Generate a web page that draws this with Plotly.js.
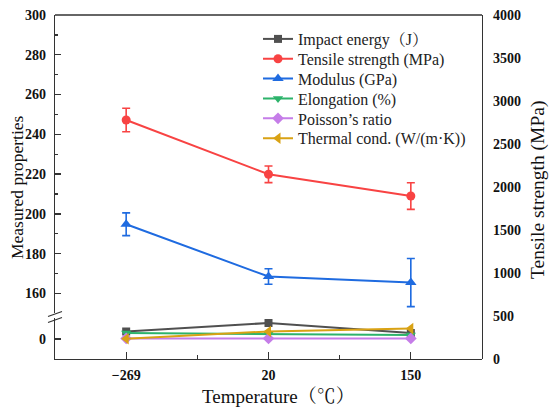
<!DOCTYPE html>
<html><head><meta charset="utf-8">
<script src="https://cdn.plot.ly/plotly-3.0.1.min.js"></script>
<style>html,body{margin:0;padding:0;background:#fff}#chart{width:550px;height:416px}</style>
</head><body><div id="chart"></div>
<script>
// ---- data ----
const temperatures = ["\u2212269", "20", "150"];
const impactEnergy = [3.8, 8.0, 3.0];
const tensileStrength = [2779, 2148, 1895];
const tensileErr = [136, 97, 155];
const modulus = [194.8, 168.5, 165.5];
const modulusErr = [5.7, 3.9, 12.1];
const elongation = [3.0, 2.5, 2.0];
const poissonRatio = [0.3, 0.3, 0.3];
const thermalCond = [0.1, 3.8, 5.2];
const seriesNames = ["Impact energy\uFF08J\uFF09", "Tensile strength (MPa)", "Modulus (GPa)",
  "Elongation (%)", "Poisson\u2019s ratio", "Thermal cond. (W/(m\u00B7K))"];
const leftTicksUpper = [160, 180, 200, 220, 240, 260, 280, 300];
const leftTicksLower = [0];

// ---- geometry helpers ----
const W = 550, H = 416, ML = 55, MR = 68, MT = 15, MB = 57;
const PW = W - ML - MR, PH = H - MT - MB;
const px = x => (x - ML) / PW;
const py = y => 1 - (y - MT) / PH;

const idx = temperatures.map((t, i) => i);
const serif = "Liberation Serif, Times New Roman, Noto Serif CJK SC, Noto Sans CJK SC, serif";
const legendNames = ["legend", "legend2", "legend3", "legend4", "legend5", "legend6"];

function tr(k, y, axis, color, symbol, size, err) {
  const t = {
    x: idx, y: y, name: seriesNames[k], yaxis: axis, legend: legendNames[k],
    type: "scatter", mode: "lines+markers",
    line: {color: color, width: 2},
    marker: {color: color, symbol: symbol, size: size}
  };
  if (err) t.error_y = {type: "data", array: err, visible: true, color: color, thickness: 1.6, width: 4};
  return t;
}

const data = [
  tr(0, impactEnergy, "y2", "#505050", "square", 8),
  tr(1, tensileStrength, "y3", "#f84343", "circle", 9, tensileErr),
  tr(2, modulus, "y", "#1f6be0", "triangle-up", 10, modulusErr),
  tr(3, elongation, "y2", "#2db36b", "triangle-down", 9),
  tr(4, poissonRatio, "y2", "#c57de8", "diamond", 9),
  tr(5, thermalCond, "y2", "#d9a214", "triangle-left", 10)
];

const axisLine = "#333333";
const tickFont = {family: serif, size: 14, color: "#111", weight: "bold"};

const layout = {
  width: W, height: H,
  margin: {l: ML, r: MR, t: MT, b: MB, pad: 0},
  paper_bgcolor: "#ffffff", plot_bgcolor: "rgba(0,0,0,0)",
  showlegend: true,
  xaxis: {
    range: [-0.5, 2.5], tickvals: idx, ticktext: temperatures,
    anchor: "y2", showline: true, linecolor: axisLine, linewidth: 1.3,
    ticks: "inside", ticklen: 7, tickwidth: 1.3, tickcolor: axisLine,
    minor: {tick0: 0.5, dtick: 1, ticks: "inside", ticklen: 4, tickwidth: 1.3, tickcolor: axisLine},
    showgrid: false, zeroline: false, tickfont: tickFont, ticklabelstandoff: 3
  },
  yaxis: {
    domain: [0.135, 1], range: [150.4, 300], tickvals: leftTicksUpper,
    anchor: "x", showline: true, linecolor: axisLine, linewidth: 1.3,
    ticks: "inside", ticklen: 6, tickwidth: 1.3, tickcolor: axisLine,
    minor: {dtick: 10, tick0: 0, ticks: "inside", ticklen: 3, tickwidth: 1.3, tickcolor: axisLine},
    showgrid: false, zeroline: false, tickfont: tickFont, ticklabelstandoff: 5
  },
  yaxis2: {
    domain: [0, 0.12], range: [-10, 10.65], tickvals: leftTicksLower,
    anchor: "x", showline: true, linecolor: axisLine, linewidth: 1.3,
    ticks: "inside", ticklen: 6, tickwidth: 1.3, tickcolor: axisLine,
    showgrid: false, zeroline: false, tickfont: tickFont, ticklabelstandoff: 5
  },
  yaxis3: {
    domain: [0, 1], range: [0, 4000], dtick: 500, tick0: 0,
    anchor: "x", side: "right", showline: true, linecolor: axisLine, linewidth: 1.3,
    ticks: "", showgrid: false, zeroline: false, tickfont: tickFont, ticklabelstandoff: 7
  },
  shapes: [
    {type: "line", xref: "paper", yref: "paper", x0: 0, x1: 1, y0: 1, y1: 1,
      line: {color: axisLine, width: 1.3}},
    {type: "line", xref: "paper", yref: "paper", x0: px(48), x1: px(62), y0: py(316.5), y1: py(311.5),
      line: {color: axisLine, width: 1.3}},
    {type: "line", xref: "paper", yref: "paper", x0: px(48), x1: px(62), y0: py(322.5), y1: py(317.5),
      line: {color: axisLine, width: 1.3}}
  ],
  annotations: [
    {text: "Measured properties", xref: "paper", yref: "paper", x: px(17), y: py(187),
      xanchor: "center", yanchor: "middle", borderpad: 0,
      textangle: -90, showarrow: false, font: {family: serif, size: 17.5, color: "#111"}},
    {text: "Tensile strength (MPa)", xref: "paper", yref: "paper", x: px(538), y: py(190),
      xanchor: "center", yanchor: "middle", borderpad: 0,
      textangle: -90, showarrow: false, font: {family: serif, size: 19.5, color: "#111"}},
    {text: "Temperature\uFF08\u2103\uFF09", xref: "paper", yref: "paper", x: px(278), y: py(396),
      xanchor: "center", yanchor: "middle", borderpad: 0,
      showarrow: false, font: {family: serif, size: 19, color: "#111"}}
  ]
};

// one legend box per entry, stacked with the reference's row pitch
legendNames.forEach((ln, i) => {
  layout[ln] = {x: px(258), y: py(39 + 19.85 * i), xanchor: "left", yanchor: "middle",
    bgcolor: "rgba(0,0,0,0)", borderwidth: 0, itemwidth: 30,
    font: {family: serif, size: 16, color: "#222"}};
});

Plotly.newPlot("chart", data, layout, {displayModeBar: false, staticPlot: true});
</script>
</body></html>
